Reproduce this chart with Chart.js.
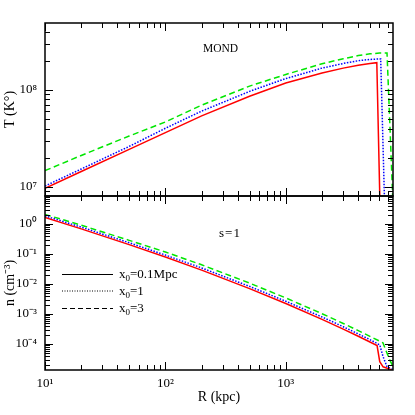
<!DOCTYPE html>
<html><head><meta charset="utf-8">
<script src="https://cdn.jsdelivr.net/npm/chart.js@4/dist/chart.umd.min.js"></script>
<style>
html,body{margin:0;padding:0;background:#fff;}
#wrap{position:relative;width:415px;height:415px;font-family:"Liberation Serif",serif;color:#000;}
canvas{position:absolute;left:0;top:0;}
.txt{position:absolute;white-space:nowrap;line-height:14px;font-size:13px;}
.txt sub{font-size:9px;vertical-align:-3px;line-height:0;}
svg{position:absolute;left:0;top:0;}
</style></head><body>
<div id="wrap">
<canvas id="cTop" width="415" height="415"></canvas>
<canvas id="cBot" width="415" height="415"></canvas>
<svg width="415" height="415">
  <line x1="62" y1="274.5" x2="113" y2="274.5" stroke="#000" stroke-width="1"/>
  <line x1="62" y1="291" x2="113" y2="291" stroke="#000" stroke-width="1" stroke-dasharray="1 1.5"/>
  <line x1="62" y1="308.5" x2="113" y2="308.5" stroke="#000" stroke-width="1" stroke-dasharray="5 3"/>
</svg>
<div class="txt" style="left:203px;top:41px;font-size:11.5px;">MOND</div>
<div class="txt" style="left:219px;top:226px;letter-spacing:1px;">s=1</div>
<div class="txt" id="l0" style="left:119px;top:267px;"></div>
<div class="txt" id="l1" style="left:119px;top:284px;"></div>
<div class="txt" id="l2" style="left:119px;top:301px;"></div>
</div>
<script>
// ---------- data ----------
const R_MIN = 10, R_MAX = 7770;          // kpc
const T_MIN = 8.07e6, T_MAX = 4.9e8;      // K
const N_MIN = 1.36e-5, N_MAX = 8.57;      // cm^-3

const R_TICK_EXP = [1, 2, 3];
const T_TICK_EXP = [7, 8];
const N_TICK_EXP = [0, -1, -2, -3, -4];

const SERIES_NAMES = ['x0=0.1Mpc', 'x0=1', 'x0=3'];

// Temperature panel (MOND)
const RT_RED   = [10, 20, 50, 100, 200, 500, 1000, 2000, 3000, 4000, 5000, 5700, 6050];
const T_RED    = [9.70e6, 1.445e7, 2.443e7, 3.63e7, 5.41e7, 8.61e7, 1.180e8, 1.496e8, 1.679e8, 1.799e8, 1.871e8, 1.910e8, 7.0e6];
const RT_BLUE  = [10, 20, 50, 100, 200, 500, 1000, 2000, 3000, 4000, 5000, 6140, 6600];
const T_BLUE   = [1.023e7, 1.531e7, 2.618e7, 4.027e7, 6.053e7, 9.66e7, 1.309e8, 1.679e8, 1.875e8, 2.004e8, 2.065e8, 2.089e8, 7.5e6];
const RT_GREEN = [10, 20, 50, 100, 200, 500, 1000, 2000, 3000, 4000, 5000, 6000, 6930, 7300, 7750];
const T_GREEN  = [1.472e7, 2.113e7, 3.350e7, 4.677e7, 6.966e7, 1.096e8, 1.445e8, 1.862e8, 2.099e8, 2.265e8, 2.355e8, 2.399e8, 2.399e8, 4.79e7, 7.0e6];

// Density panel (s=1)
const RN_RED   = [10, 20, 50, 100, 200, 500, 1000, 2000, 3000, 4000, 5000, 5730, 6030, 6430, 7690];
const N_RED    = [1.66, 0.689, 0.2056, 0.0791, 0.02897, 0.00700, 0.002228, 6.62e-4, 3.13e-4, 1.807e-4, 1.169e-4, 8.91e-5, 2.57e-5, 1.74e-5, 1.35e-5];
const RN_BLUE  = [10, 20, 50, 100, 200, 500, 1000, 2000, 3000, 4000, 5000, 6030, 6400, 6930, 7730];
const N_BLUE   = [1.862, 0.785, 0.237, 0.0923, 0.03428, 0.00832, 0.00266, 7.94e-4, 3.76e-4, 2.163e-4, 1.396e-4, 9.33e-5, 3.98e-5, 1.74e-5, 1.41e-5];
const RN_GREEN = [10, 20, 50, 100, 200, 500, 1000, 2000, 3000, 4000, 5000, 6410, 7300, 7730];
const N_GREEN  = [2.089, 0.912, 0.285, 0.1161, 0.0437, 0.01072, 0.00343, 0.001023, 4.84e-4, 2.786e-4, 1.799e-4, 1.096e-4, 2.95e-5, 1.86e-5];

// ---------- helpers ----------
const RED = '#ff0000', BLUE = '#0000ff', GREEN = '#00e600';
const FONT = '"Liberation Serif", serif';
const SUP = {'0':'⁰','1':'¹','2':'²','3':'³','4':'⁴','5':'⁵','6':'⁶','7':'⁷','8':'⁸','9':'⁹','-':'⁻'};
const sup = n => String(n).split('').map(c => SUP[c]).join('');
const pts = (xs, ys) => xs.map((x, i) => ({x, y: ys[i]}));
const powLabel = v => '10' + sup(Math.round(Math.log10(v)));

function sub0(name){ // "x0=..." -> x<sub>0</sub>=...
  return name.replace(/^x0/, 'x<sub>0</sub>');
}
SERIES_NAMES.forEach((n, i) => document.getElementById('l' + i).innerHTML = sub0(n));

function minorValues(min, max){
  const out = [];
  for (let k = Math.floor(Math.log10(min)); k <= Math.ceil(Math.log10(max)); k++){
    for (let m = 1; m <= 9; m++){
      const v = m * Math.pow(10, k);
      if (v >= min * 0.9999 && v <= max * 1.0001) out.push({v, major: m === 1});
    }
  }
  return out;
}

const framePlugin = {
  id: 'frame',
  afterDatasetsDraw(chart){
    const {ctx, chartArea: a, scales: {x, y}} = chart;
    ctx.save();
    ctx.strokeStyle = '#000';
    ctx.lineWidth = 1;
    ctx.beginPath();
    minorValues(x.min, x.max).forEach(t => {
      const p = Math.round(x.getPixelForValue(t.v)) + 0.5;
      const L = t.major ? 8 : 5;
      ctx.moveTo(p, a.bottom); ctx.lineTo(p, a.bottom - L);
      ctx.moveTo(p, a.top); ctx.lineTo(p, a.top + L);
    });
    minorValues(y.min, y.max).forEach(t => {
      const p = Math.round(y.getPixelForValue(t.v)) + 0.5;
      const L = t.major ? 8 : 5;
      ctx.moveTo(a.left, p); ctx.lineTo(a.left + L, p);
      ctx.moveTo(a.right, p); ctx.lineTo(a.right - L, p);
    });
    ctx.stroke();
    ctx.lineWidth = 1.5;
    ctx.strokeRect(a.left, a.top, a.right - a.left, a.bottom - a.top);
    ctx.restore();
  }
};

function ds(data, color, dash){
  return {data, borderColor: color, borderWidth: 1.5, borderDash: dash, pointRadius: 0,
          fill: false, tension: 0, borderCapStyle: 'butt'};
}

function yScale(min, max, exps, title){
  return {
    type: 'logarithmic', min, max, position: 'left',
    afterFit(s){ s.width = 45; },
    afterBuildTicks(s){ s.ticks = exps.map(e => ({value: Math.pow(10, e)})); },
    grid: {display: false, drawTicks: false}, border: {display: false},
    ticks: {callback: powLabel, autoSkip: false, color: '#000', padding: 8,
            font: {family: FONT, size: 13}},
    title: {display: true, text: title, color: '#000', font: {family: FONT, size: 14},
            padding: {top: 2, bottom: 0}}
  };
}

const common = {
  responsive: false, animation: false, events: [],
  plugins: {legend: {display: false}, tooltip: {enabled: false}}
};

new Chart(document.getElementById('cTop'), {
  type: 'line',
  data: {datasets: [
    ds(pts(RT_RED, T_RED), RED, []),
    ds(pts(RT_BLUE, T_BLUE), BLUE, [1.5, 1.5]),
    ds(pts(RT_GREEN, T_GREEN), GREEN, [6, 3.5])
  ]},
  options: Object.assign({}, common, {
    layout: {padding: {left: 0, right: 22, top: 23, bottom: 219}},
    scales: {
      x: {type: 'logarithmic', min: R_MIN, max: R_MAX, display: false},
      y: yScale(T_MIN, T_MAX, T_TICK_EXP, 'T (K°)')
    }
  }),
  plugins: [framePlugin]
});

new Chart(document.getElementById('cBot'), {
  type: 'line',
  data: {datasets: [
    ds(pts(RN_RED, N_RED), RED, []),
    ds(pts(RN_BLUE, N_BLUE), BLUE, [1.5, 1.5]),
    ds(pts(RN_GREEN, N_GREEN), GREEN, [6, 3.5])
  ]},
  options: Object.assign({}, common, {
    layout: {padding: {left: 0, right: 22, top: 196, bottom: 0}},
    scales: {
      x: {type: 'logarithmic', min: R_MIN, max: R_MAX, position: 'bottom',
          afterFit(s){ s.height = 45; },
          afterBuildTicks(s){ s.ticks = R_TICK_EXP.map(e => ({value: Math.pow(10, e)})); },
          grid: {display: false, drawTicks: false}, border: {display: false},
          ticks: {callback: powLabel, autoSkip: false, maxRotation: 0, color: '#000', padding: 6,
                  font: {family: FONT, size: 13}},
          title: {display: true, text: 'R (kpc)', color: '#000', font: {family: FONT, size: 14},
                  padding: {top: 0, bottom: 9}}},
      y: yScale(N_MIN, N_MAX, N_TICK_EXP, 'n (cm⁻³)')
    }
  }),
  plugins: [framePlugin]
});
</script>
</body></html>
